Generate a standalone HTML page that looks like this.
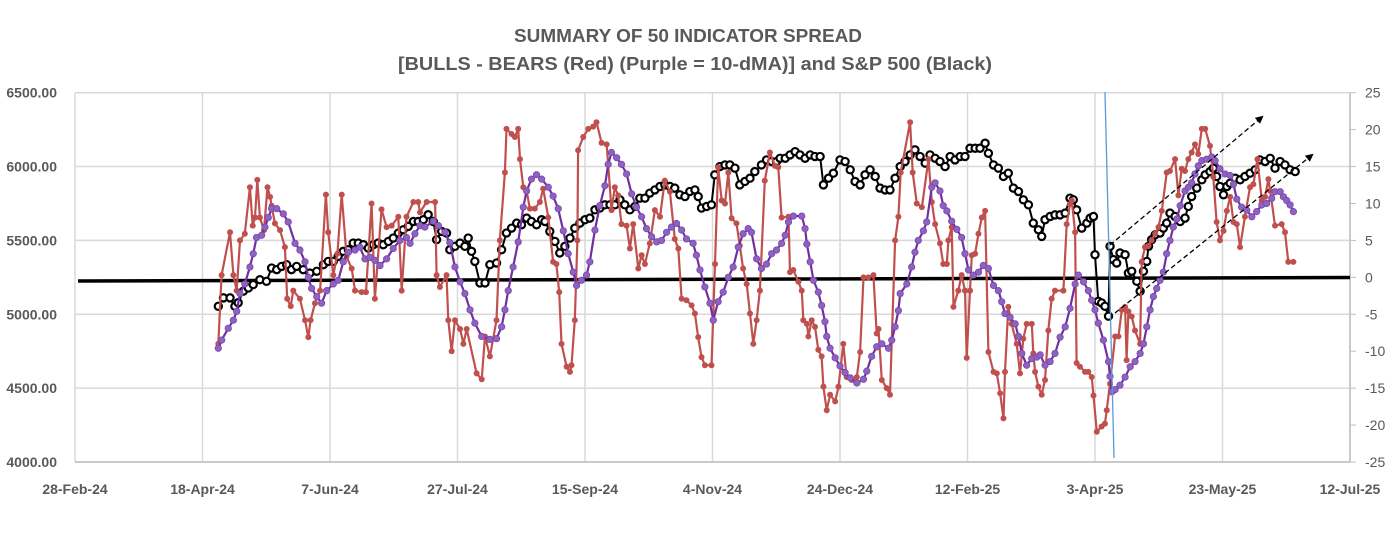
<!DOCTYPE html>
<html><head><meta charset="utf-8">
<style>
html,body{margin:0;padding:0;background:#fff;}
svg{display:block;font-family:"Liberation Sans",sans-serif;}
</style></head>
<body>
<svg id="chart" width="1393" height="533" viewBox="0 0 1393 533" xmlns="http://www.w3.org/2000/svg">
<rect width="1393" height="533" fill="#fff"/>
<g id="title" font-weight="bold" fill="#595959" text-anchor="middle">
<text x="688" y="42" font-size="18" textLength="348" lengthAdjust="spacingAndGlyphs">SUMMARY OF 50 INDICATOR SPREAD</text>
<text x="695" y="70" font-size="18" textLength="594" lengthAdjust="spacingAndGlyphs">[BULLS - BEARS (Red) (Purple = 10-dMA)] and S&amp;P 500 (Black)</text>
</g>
<g id="grid"></g>
<g id="axes"></g>
<g id="marks"></g>
<g id="annot"></g>
</svg>
<script>
const xTickLabels = ["28-Feb-24","18-Apr-24","7-Jun-24","27-Jul-24","15-Sep-24","4-Nov-24","24-Dec-24","12-Feb-25","3-Apr-25","23-May-25","12-Jul-25"];
const leftTicks = [4000,4500,5000,5500,6000,6500];
const rightTicks = [-25,-20,-15,-10,-5,0,5,10,15,20,25];

// days since 28-Feb-24
const redDays = [56.2,57.5,60.8,62.1,63.4,64.7,66.6,68.6,69.7,70.6,71.5,72.5,74.1,75.5,76.5,77.1,78.4,80.4,82.3,83.2,84.6,85.6,88.2,90.2,91.5,92.4,94.1,96.1,98.4,99.3,101.3,102.9,104.6,106.5,108.5,109.8,112.4,114.1,116.3,117.6,120.2,122.2,124.2,126.8,128.1,130.0,132.7,134.6,135.3,137.9,141.2,141.8,143.1,145.7,146.4,147.7,149.0,151.0,152.3,153.6,157.5,159.5,160.8,162.7,165.3,166.6,168.6,169.2,171.2,172.5,173.8,174.5,175.8,177.1,178.4,180.3,182.3,183.6,185.6,187.5,188.8,189.9,190.8,192.8,194.1,194.7,196.0,197.0,197.3,199.3,201.3,203.2,204.5,206.5,208.5,210.4,211.7,213.0,214.3,216.3,217.6,218.9,220.9,222.2,223.5,225.4,227.4,229.4,231.3,233.3,235.2,236.6,237.9,239.8,241.8,243.1,244.4,245.7,247.0,249.6,251.0,252.2,253.6,254.9,256.2,257.5,259.4,260.7,262.0,263.4,264.7,266.0,267.3,268.6,270.5,272.5,274.5,275.8,277.1,279.8,280.4,281.7,283.7,285.0,285.6,287.0,287.6,288.9,290.2,291.5,292.8,293.5,294.8,296.1,298.1,299.4,301.3,302.6,304.6,306.6,307.9,309.2,311.1,313.1,314.4,315.1,316.4,318.3,319.6,321.6,322.9,323.8,327.5,328.5,330.1,332.1,334.7,336.0,337.3,339.2,340.5,341.9,342.5,343.8,344.5,346.4,347.7,349.0,349.7,351.0,351.7,353.0,354.3,355.6,356.9,358.2,360.2,361.5,362.8,364.1,364.7,366.0,367.3,369.3,370.6,371.9,373.2,375.2,375.8,376.5,377.8,379.1,380.4,381.7,383.0,384.3,387.6,388.9,390.2,390.9,392.2,392.8,394.1,396.1,397.4,398.7,399.4,400.7,402.6,403.9,404.6,405.9,407.9,409.2,410.5,411.8,412.4,413.1,414.4,415.7,417.7,418.3,419.6,421.0,422.2,423.6,424.9,426.2,428.1,429.4,431.4,432.7,434.0,435.3,436.6,437.9,439.2,440.5,441.9,443.2,445.1,446.4,447.7,449.0,450.4,451.7,453.0,454.3,455.6,456.9,458.8,460.8,462.1,463.7,465.4,466.7,468.0,468.7,470.6,473.2,474.5,475.8,477.8];
const redValues = [-9.0,0.3,6.1,0.3,-1.8,5.0,5.9,12.2,7.0,8.1,13.2,8.1,6.4,12.2,10.9,9.7,7.3,6.4,4.1,-2.9,-3.9,-1.8,-2.9,-5.8,-8.1,-5.8,-3.5,-1.8,11.2,6.1,0.3,3.2,11.2,2.8,1.2,-1.8,-2.0,-2.0,10.0,-2.9,9.2,6.8,7.0,8.2,-1.8,8.2,10.2,10.2,8.8,10.2,10.2,0.3,-1.3,0.3,-5.8,-10.0,-5.8,-7.0,-9.0,-7.0,-13.0,-13.8,-8.0,-10.7,-5.8,5.0,14.2,20.1,19.4,19.0,20.1,16.0,12.2,11.7,9.3,9.3,10.2,12.0,8.1,2.1,1.8,-2.0,-9.0,-12.1,-12.8,-11.9,-5.8,5.0,17.2,19.0,20.1,20.4,21.0,18.2,18.0,9.1,12.2,11.1,7.2,7.0,3.9,7.2,1.2,3.0,1.8,4.6,9.1,8.2,13.1,11.6,5.2,3.9,-2.9,-3.1,-3.8,-4.9,-8.1,-10.8,-11.9,-11.9,1.8,14.9,10.4,10.0,14.2,8.0,7.3,4.3,1.2,-0.9,-4.9,-9.0,-5.8,-1.8,13.1,16.9,15.1,14.9,8.1,8.2,0.7,1.0,-0.6,-1.8,-5.8,-6.3,-8.0,-5.8,-6.7,-9.8,-10.7,-14.8,-18.0,-15.9,-16.8,-14.8,-9.0,-13.5,-13.9,-13.5,-10.1,0.0,0.0,0.3,-7.6,-7.0,-13.9,-15.0,-15.9,5.0,8.2,14.2,21.0,14.2,10.0,9.5,16.0,10.2,7.2,4.6,1.8,1.8,5.0,6.8,-4.0,-1.8,0.3,-1.8,-10.9,-1.8,3.0,3.2,5.9,8.1,9.0,-10.1,-12.8,-13.0,-15.7,-19.1,-12.8,-4.0,-6.3,-9.0,-13.0,-8.3,-6.3,-6.3,-10.3,-12.8,-14.8,-15.9,-13.9,-7.2,-2.9,-1.8,-1.8,7.2,9.9,10.4,6.1,-11.6,-12.1,-12.8,-12.8,-13.5,-16.0,-20.9,-20.2,-19.8,-18.0,-14.4,-8.0,-8.0,-4.4,-4.0,-11.2,-4.6,-5.3,-7.2,-9.0,2.1,4.1,4.3,5.0,5.9,6.8,9.0,14.2,14.4,16.0,11.1,14.7,14.4,16.0,16.9,18.0,16.7,20.1,20.1,17.8,13.6,7.5,5.0,6.3,9.0,10.9,7.5,7.2,4.1,8.2,12.2,12.6,16.0,10.4,10.9,13.3,11.7,7.0,7.2,6.1,2.1,2.1];

const purpleDays = [56.2,57.5,60.1,62.1,63.4,64.7,66.6,68.6,69.9,71.2,73.2,74.5,75.8,77.1,79.1,81.7,83.6,86.3,88.2,90.2,91.5,92.8,94.8,96.7,98.7,101.3,103.2,105.2,107.2,109.8,111.7,113.7,115.7,117.6,119.6,122.2,124.8,127.4,130.0,131.4,133.3,135.3,137.2,140.5,142.5,145.1,147.0,149.0,151.0,152.9,154.9,156.8,159.5,162.7,165.3,167.3,168.6,169.9,171.8,173.8,175.8,177.1,179.0,181.0,183.0,185.6,187.5,189.5,191.5,193.4,195.4,196.7,198.6,200.6,201.9,203.9,205.8,207.8,209.1,210.4,212.4,214.3,216.3,218.3,220.2,222.2,224.1,226.1,228.1,230.0,232.0,233.9,235.9,237.9,239.8,242.4,243.7,245.1,247.0,249.0,250.3,252.2,254.2,256.2,258.1,260.1,262.0,264.0,265.3,267.3,269.2,271.2,273.2,275.1,277.1,278.5,279.8,281.7,285.0,286.3,287.0,288.3,289.6,291.5,292.8,294.1,294.8,296.1,298.1,300.0,302.0,304.0,306.6,309.2,310.5,312.4,314.4,316.4,319.0,320.3,321.6,322.9,323.6,326.2,328.1,329.4,330.7,332.7,334.0,336.0,337.3,339.2,340.5,341.9,343.8,345.8,347.7,349.0,350.4,352.3,354.3,356.2,358.2,360.2,362.1,363.4,364.7,366.7,368.7,370.0,371.3,373.2,375.2,377.2,378.5,380.4,382.4,384.3,386.3,388.3,390.2,392.2,393.5,395.5,397.4,398.7,400.0,401.3,403.3,405.3,405.9,406.6,407.9,409.8,411.8,413.8,415.7,417.7,419.0,420.3,421.6,422.9,424.2,425.5,426.8,428.1,429.4,430.7,432.1,433.4,435.3,436.6,437.9,439.2,440.5,441.9,443.8,445.8,447.1,449.0,451.0,453.0,454.3,455.6,457.5,459.5,461.5,463.4,465.4,467.3,469.3,470.6,472.6,473.9,475.2,476.5,477.8];
const purpleValues = [-9.6,-8.5,-6.9,-5.8,-4.6,-2.2,-0.9,1.4,3.2,5.4,5.7,6.8,8.1,9.3,9.3,8.6,7.5,4.6,3.7,2.1,0.0,-1.5,-2.6,-3.5,-1.8,-0.9,-0.4,2.1,3.4,3.7,4.1,2.5,2.7,2.3,1.6,2.5,3.9,5.0,5.4,4.6,5.9,7.0,6.8,7.6,7.0,6.1,4.7,1.4,-0.6,-2.2,-4.4,-6.2,-8.0,-8.4,-8.3,-6.7,-4.4,-1.8,1.4,4.8,9.5,11.7,13.3,13.9,13.3,12.2,11.0,9.3,6.3,3.2,0.7,-1.1,-0.4,0.3,2.1,6.4,9.7,12.4,15.3,16.9,16.2,15.3,14.0,11.3,9.5,8.2,6.6,5.5,4.8,5.0,6.1,6.8,7.3,6.4,5.2,4.6,3.0,1.0,-1.3,-3.5,-5.8,-3.3,-2.0,0.0,1.4,4.1,5.9,6.6,6.1,2.5,1.2,1.8,3.2,3.7,4.6,5.7,7.5,8.3,8.3,6.6,4.5,2.1,-0.4,-2.0,-3.8,-6.0,-8.0,-9.6,-10.9,-12.0,-12.9,-13.6,-14.3,-13.8,-12.7,-10.7,-9.4,-9.0,-9.6,-8.5,-6.7,-4.5,-2.2,-0.9,1.4,3.4,5.0,6.3,7.5,12.2,12.8,11.7,9.7,9.0,7.6,6.5,5.4,3.2,1.0,0.3,0.7,1.6,1.2,-1.1,-1.8,-3.3,-4.9,-5.4,-6.3,-8.0,-10.3,-11.9,-11.0,-10.8,-10.5,-11.9,-11.4,-10.3,-8.1,-6.7,-4.2,-0.9,0.3,-0.6,-1.8,-3.1,-4.4,-6.2,-8.5,-11.4,-13.4,-15.5,-15.2,-14.6,-13.5,-12.1,-11.4,-10.3,-9.0,-6.7,-4.4,-2.6,-1.5,-0.4,0.7,3.2,5.0,6.8,7.9,9.7,11.7,12.2,12.8,14.0,15.1,15.8,16.0,16.3,15.8,14.7,14.0,13.8,12.6,10.6,9.5,9.1,8.2,8.9,9.8,10.0,10.7,11.6,11.6,10.9,10.4,9.8,8.9];

const spxDays = [56.2,58.2,60.8,62.7,64.0,66.0,68.0,69.9,72.5,75.1,77.1,79.1,81.0,83.0,84.9,86.9,89.5,92.1,94.8,97.4,99.3,101.3,103.2,105.2,107.2,109.1,111.1,113.1,115.0,117.0,118.9,120.9,122.9,124.8,126.8,128.7,130.7,132.7,134.6,136.6,138.5,140.5,141.8,143.8,145.7,147.0,149.0,151.0,152.9,154.2,155.5,156.8,158.8,160.8,
162.7,165.3,167.3,169.2,171.2,173.2,175.1,177.1,179.0,181.0,183.0,184.3,186.2,188.2,190.1,192.1,194.1,196.0,198.0,200.0,201.9,203.9,205.8,207.8,209.8,211.7,213.7,215.6,217.6,219.6,221.5,223.5,225.4,227.4,229.4,231.3,233.3,235.2,237.2,239.2,241.1,243.1,244.4,245.7,247.7,249.6,250.9,252.9,254.9,256.8,258.8,260.7,262.7,264.7,266.6,269.2,271.2,273.2,275.1,
276.5,278.5,280.4,282.4,284.3,286.3,288.3,290.2,292.2,293.5,295.5,297.4,300.0,302.0,304.0,305.9,307.9,309.8,311.8,313.8,315.7,317.7,319.6,321.6,323.6,325.5,327.5,329.4,331.4,333.4,335.3,337.3,339.2,341.2,343.2,345.1,347.1,349.0,351.0,353.0,354.9,356.9,358.2,360.2,362.1,364.1,366.0,368.0,370.0,371.9,373.9,375.8,377.8,379.1,380.4,382.4,384.3,
386.3,388.3,390.2,391.5,392.8,394.8,396.8,398.1,399.4,400.0,401.3,402.6,403.9,405.3,405.9,407.2,408.5,409.8,411.8,413.1,414.4,416.4,417.7,419.0,420.3,421.0,422.2,423.6,425.5,426.8,428.1,429.4,431.4,433.4,435.3,436.6,437.9,439.9,441.9,443.2,445.1,446.4,447.7,449.0,450.4,451.7,453.0,455.0,456.9,458.8,460.8,462.8,464.7,466.7,468.7,470.6,472.6,474.5,476.5,478.5];
const spxValues = [5054,5111,5111,5054,5078,5156,5178,5201,5234,5223,5313,5302,5324,5336,5302,5324,5302,5279,5291,5336,5358,5358,5392,5426,5437,5482,5482,5471,5448,5471,5482,5471,5493,5516,5550,5572,5595,5628,5628,5640,5674,5628,5505,5561,5550,5437,5460,5482,5460,5516,5426,5358,5212,5212,
5336,5347,5437,5550,5583,5617,5606,5651,5628,5606,5640,5628,5561,5493,5415,5460,5516,5583,5617,5640,5651,5707,5719,5741,5741,5741,5775,5741,5707,5730,5786,5786,5820,5842,5865,5876,5865,5854,5809,5797,5831,5842,5797,5719,5730,5741,5944,6000,6011,6011,5989,5876,5899,5921,5966,6011,6045,6034,6034,
6056,6056,6079,6101,6079,6056,6079,6068,6068,5876,5921,5955,6045,6034,5978,5899,5876,5944,5978,5933,5854,5842,5842,5921,6000,6034,6079,6113,6068,6023,6079,6056,6034,6000,6068,6045,6068,6068,6124,6124,6124,6158,6090,6011,5989,5933,5955,5854,5831,5775,5741,5617,5572,5527,5640,5662,5673,
5673,5685,5786,5775,5707,5583,5617,5651,5662,5403,5088,5077,5054,4987,5460,5370,5347,5415,5403,5279,5291,5223,5156,5291,5358,5460,5505,5538,5550,5583,5617,5685,5662,5628,5651,5730,5797,5854,5910,5944,5966,5989,5933,5865,5809,5865,5887,5921,5910,5933,5955,5978,6045,6034,6056,5989,6034,6011,5978,5966];

const NS = "http://www.w3.org/2000/svg";
const X0 = 75, X1 = 1350, DAYS = 500;
const Y_TOP = 92.7, Y_BOT = 462;
function xScale(d){ return X0 + (X1 - X0) * d / DAYS; }
function yLeft(v){ return Y_BOT - (v - 4000) / 2500 * (Y_BOT - Y_TOP); }
function yRight(v){ return Y_BOT - (v + 25) / 50 * (Y_BOT - Y_TOP); }
function mk(tag, attrs, parent){
  const e = document.createElementNS(NS, tag);
  for (const k in attrs) e.setAttribute(k, attrs[k]);
  parent.appendChild(e); return e;
}
const grid = document.getElementById('grid');
const axes = document.getElementById('axes');
const marks = document.getElementById('marks');
const annot = document.getElementById('annot');

leftTicks.forEach(v => {
  const y = yLeft(v);
  const l = mk('line', {x1:X0, x2:X1, y1:y, y2:y, stroke:'#d9d9d9', 'stroke-width':1.5}, grid);
  
  
  const t = mk('text', {x:57, y:y+5, 'text-anchor':'end', 'font-size':14, 'font-weight':'bold', fill:'#595959'}, axes);
  t.textContent = v.toFixed(2);
  
  
});
xTickLabels.forEach((lab, i) => {
  const x = xScale(i * 50);
  const l = mk('line', {x1:x, x2:x, y1:Y_TOP, y2:Y_BOT, stroke:'#d9d9d9', 'stroke-width':1.5}, grid);
  
  
  const t = mk('text', {x:x, y:494, 'text-anchor':'middle', 'font-size':14, 'font-weight':'bold', fill:'#595959'}, axes);
  t.textContent = lab;
  
  
});
rightTicks.forEach(v => {
  const y = yRight(v);
  const tk = mk('line', {x1:X1, x2:X1+6, y1:y, y2:y, stroke:'#bfbfbf', 'stroke-width':1}, axes);
  
  
  const t = mk('text', {x:1365, y:y+5, 'font-size':14, fill:'#595959'}, axes);
  t.textContent = v;
  
  
});
const ax1 = mk('line', {x1:X0, x2:X1, y1:Y_BOT, y2:Y_BOT, stroke:'#bfbfbf', 'stroke-width':1.5}, axes);


const ax2 = mk('line', {x1:X1, x2:X1, y1:Y_TOP, y2:Y_BOT, stroke:'#bfbfbf', 'stroke-width':1.5}, axes);



const zl = mk('line', {x1:78, y1:281, x2:X1, y2:277.5, stroke:'#000', 'stroke-width':3.5}, marks);



function series(days, vals, yf, name, color, width, markerFn){
  const g = mk('g', {}, marks);
  
  
  const pts = days.map((d, i) => xScale(d).toFixed(1) + ',' + yf(vals[i]).toFixed(1)).join(' ');
  const pl = mk('polyline', {points:pts, fill:'none', stroke:color, 'stroke-width':width, 'stroke-linejoin':'round'}, g);
  
  
  days.forEach((d, i) => {
    const c = markerFn(xScale(d), yf(vals[i]), g);
    
    
  });
}
series(spxDays, spxValues, yLeft, 'sp500-series', '#000', 2, (x, y, g) => mk('circle', {cx:x, cy:y, r:3.6, fill:'#fff', stroke:'#000', 'stroke-width':2.2}, g));
series(redDays, redValues, yRight, 'bulls-bears-series', '#C0504D', 2.2, (x, y, g) => mk('circle', {cx:x, cy:y, r:3, fill:'#C0504D'}, g));
series(purpleDays, purpleValues, yRight, 'ma10-series', '#7030A0', 2.2, (x, y, g) => mk('circle', {cx:x, cy:y, r:3.2, fill:'#8E63C0', stroke:'#7A45B0', 'stroke-width':0.8}, g));

const bl = mk('line', {x1:1105, y1:92, x2:1114, y2:458, stroke:'#5B9BD5', 'stroke-width':1.3}, annot);


const defs = mk('defs', {}, annot);
const m = mk('marker', {id:'ah', markerWidth:8, markerHeight:8, refX:6, refY:4, orient:'auto', markerUnits:'userSpaceOnUse'}, defs);
mk('path', {d:'M0,0 L8,4 L0,8 z', fill:'#000'}, m);
const a1 = mk('line', {x1:1110, y1:245, x2:1262, y2:117, stroke:'#000', 'stroke-width':1.3, 'stroke-dasharray':'5,3', 'marker-end':'url(#ah)'}, annot);


const a2 = mk('line', {x1:1115, y1:313, x2:1312, y2:155, stroke:'#000', 'stroke-width':1.3, 'stroke-dasharray':'5,3', 'marker-end':'url(#ah)'}, annot);


</script>
</body></html>
